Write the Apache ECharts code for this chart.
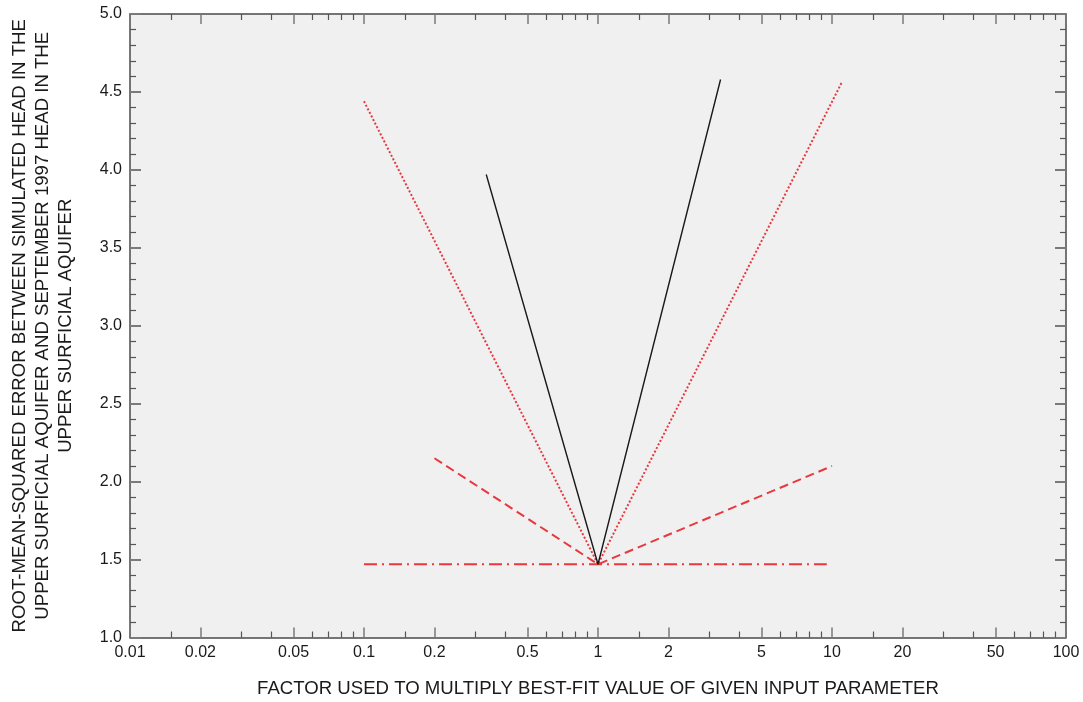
<!DOCTYPE html>
<html>
<head>
<meta charset="utf-8">
<script src="https://cdn.jsdelivr.net/npm/echarts@6/dist/echarts.min.js"></script>
<style>
html,body{margin:0;padding:0;background:#fff;}
#chart{width:1083px;height:702px;}
</style>
</head>
<body>
<div id="chart"></div>
<script>
// ---- data ----
var blackX = [0.333, 1, 3.34];
var blackY = [3.97, 1.47, 4.58];
var dottedX = [0.1, 1, 11];
var dottedY = [4.44, 1.47, 4.56];
var dashedX = [0.2, 1, 10];
var dashedY = [2.15, 1.47, 2.10];
var dashDotX = [0.1, 1, 9.5];
var dashDotY = [1.47, 1.47, 1.47];

var xMajorTicks = [0.01, 0.02, 0.05, 0.1, 0.2, 0.5, 1, 2, 5, 10, 20, 50, 100];
var xMajorLabels = ['0.01', '0.02', '0.05', '0.1', '0.2', '0.5', '1', '2', '5', '10', '20', '50', '100'];
var xMinorTicks = [0.015, 0.03, 0.04, 0.06, 0.07, 0.08, 0.09,
                   0.15, 0.3, 0.4, 0.6, 0.7, 0.8, 0.9,
                   1.5, 3, 4, 6, 7, 8, 9,
                   15, 30, 40, 60, 70, 80, 90];

var xTitle = 'FACTOR USED TO MULTIPLY BEST-FIT VALUE OF GIVEN INPUT PARAMETER';
var yTitle = 'ROOT-MEAN-SQUARED ERROR BETWEEN SIMULATED HEAD IN THE\nUPPER SURFICIAL AQUIFER AND SEPTEMBER 1997 HEAD IN THE\nUPPER SURFICIAL AQUIFER';

function zip(xs, ys) { return xs.map(function (x, i) { return [x, ys[i]]; }); }
var lg = function (v) { return Math.log10(v); };
var majLog = xMajorTicks.map(lg);
var minLog = xMinorTicks.map(lg);

var FONT = '"Liberation Sans", Arial, Helvetica, sans-serif';
var RED = '#e8383f';
var AXC = '#4a4a4a';
var TICKC = '#7a7a7a';
var TITLE_SIZE = 18.6;

function valAxis(pos, ticks, len, opts) {
  var a = {
    type: 'value', position: pos, min: -2, max: 2,
    axisLine: { show: !!opts.line, onZero: false, lineStyle: { color: AXC, width: 1.5 } },
    axisTick: { show: true, inside: true, length: len, customValues: ticks,
                lineStyle: { color: opts.tickColor || TICKC, width: opts.tickWidth || 1.5 } },
    axisLabel: { show: false },
    splitLine: { show: false }
  };
  if (opts.labels) {
    a.axisLabel = {
      show: true, customValues: ticks, margin: 7, color: '#1a1a1a', fontSize: 16, fontFamily: FONT,
      formatter: function (v) {
        for (var i = 0; i < majLog.length; i++) if (Math.abs(majLog[i] - v) < 1e-6) return xMajorLabels[i];
        return '';
      }
    };
    a.name = xTitle;
    a.nameLocation = 'middle';
    a.nameGap = 41.5;
    a.nameTextStyle = { color: '#1a1a1a', fontSize: TITLE_SIZE, fontFamily: FONT, lineHeight: 20 };
  }
  return a;
}

var chart = echarts.init(document.getElementById('chart'), null, { renderer: 'canvas' });
chart.setOption({
  animation: false,
  backgroundColor: '#ffffff',
  grid: { left: 130, right: 17, top: 14, bottom: 64.5, show: true, backgroundColor: '#f0f0f0',
          borderWidth: 0, containLabel: false, outerBoundsMode: 'none' },
  xAxis: [
    { type: 'log', logBase: 10, min: 0.01, max: 100, show: false },
    valAxis('bottom', majLog, 10, { line: true, labels: true }),
    valAxis('bottom', minLog, 6, { tickColor: '#555', tickWidth: 1.2 }),
    valAxis('top', majLog, 10, { line: true }),
    valAxis('top', minLog, 6, { tickColor: '#555', tickWidth: 1.2 })
  ],
  yAxis: [
    {
      type: 'value', position: 'left', min: 1, max: 5, interval: 0.5,
      axisLine: { show: true, onZero: false, lineStyle: { color: AXC, width: 1.5 } },
      axisTick: { show: true, inside: true, length: 11, lineStyle: { color: TICKC, width: 2 } },
      minorTick: { show: true, splitNumber: 5, length: 6, lineStyle: { color: '#555', width: 1.2 } },
      axisLabel: { margin: 8, color: '#1a1a1a', fontSize: 16, fontFamily: FONT,
                   formatter: function (v) { return v.toFixed(1); } },
      splitLine: { show: false },
      name: yTitle, nameLocation: 'middle', nameRotate: 90, nameGap: 53,
      nameTextStyle: { color: '#1a1a1a', fontSize: TITLE_SIZE, fontFamily: FONT, lineHeight: 23, align: 'center' }
    },
    {
      type: 'value', position: 'right', min: 1, max: 5, interval: 0.5,
      axisLine: { show: true, onZero: false, lineStyle: { color: AXC, width: 1.5 } },
      axisTick: { show: true, inside: true, length: 11, lineStyle: { color: TICKC, width: 2 } },
      minorTick: { show: true, splitNumber: 5, length: 6, lineStyle: { color: '#555', width: 1.2 } },
      axisLabel: { show: false },
      splitLine: { show: false }
    }
  ],
  series: [
    { type: 'line', xAxisIndex: 0, yAxisIndex: 0, data: zip(dashDotX, dashDotY), symbol: 'none',
      lineStyle: { color: RED, width: 2, type: [13, 5, 2, 5] } },
    { type: 'line', xAxisIndex: 0, yAxisIndex: 0, data: zip(dashedX, dashedY), symbol: 'none',
      lineStyle: { color: RED, width: 2, type: [9, 5] } },
    { type: 'line', xAxisIndex: 0, yAxisIndex: 0, data: zip(dottedX, dottedY), symbol: 'none',
      lineStyle: { color: RED, width: 2, type: [2, 2] } },
    { type: 'line', xAxisIndex: 0, yAxisIndex: 0, data: zip(blackX, blackY), symbol: 'none',
      lineStyle: { color: '#1a1a1a', width: 1.4, type: 'solid' } }
  ]
});
</script>
</body>
</html>
